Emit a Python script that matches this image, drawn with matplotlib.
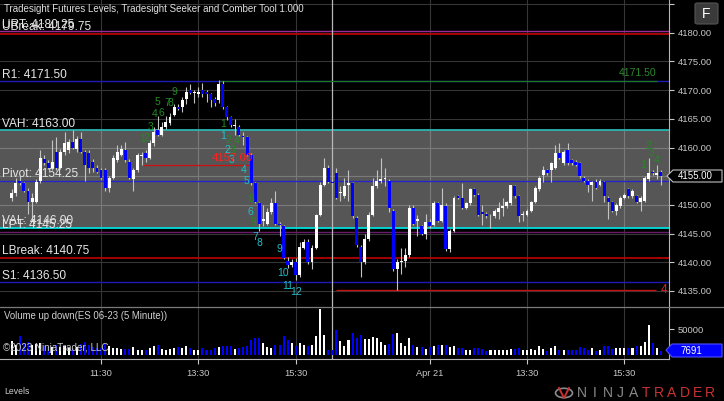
import matplotlib
matplotlib.use("Agg")
import matplotlib.pyplot as plt
import matplotlib.transforms as mtransforms
from matplotlib.lines import Line2D
from matplotlib.patches import Polygon, FancyBboxPatch, Circle
import numpy as np

plt.rcParams['font.family'] = ['Liberation Sans', 'DejaVu Sans']

W, H = 724, 401

# 5 minute ES 06-23 bars, two RTH sessions (first bar index 1)
opens = [
    4151.25, 4152.0, 4154.25, 4153.75, 4152.5, 4150.5, 4150.5, 4154.25, 4158.0, 4157.25,
    4156.5, 4159.25, 4156.5, 4159.25, 4159.5, 4161.0, 4159.75, 4161.5, 4159.25, 4159.0,
    4157.5, 4156.5, 4156.0, 4156.0, 4153.0, 4154.75, 4157.75, 4158.75, 4159.5, 4157.5,
    4154.5, 4156.0, 4158.5, 4159.0, 4158.25, 4160.75, 4163.0, 4162.25, 4163.5, 4164.25,
    4165.75, 4167.0, 4167.0, 4168.5, 4170.0, 4169.5, 4169.25, 4170.0, 4169.75, 4169.25,
    4168.5, 4168.25, 4171.0, 4167.0, 4165.25, 4163.75, 4163.5, 4162.0, 4161.75, 4158.75,
    4153.75, 4150.25, 4147.25, 4146.75, 4148.75, 4150.25, 4146.75, 4146.25, 4140.25, 4139.5,
    4140.0, 4137.75, 4142.5, 4143.5, 4140.0, 4142.5, 4148.25, 4153.5, 4156.5, 4154.0,
    4155.5, 4152.0, 4151.5, 4153.5, 4153.75, 4147.75, 4142.75, 4140.0, 4144.0, 4148.25,
    4153.25, 4154.25, 4154.5, 4154.25, 4149.0, 4138.75, 4140.0, 4140.25, 4141.25, 4149.5,
    4147.25, 4146.25, 4145.0, 4147.0, 4146.5, 4150.25, 4147.25, 4149.75, 4142.25, 4145.5,
    4151.5, 4151.25, 4149.5, 4150.25, 4152.75, 4151.75, 4148.75, 4148.5, 4148.0, 4148.0,
    4148.75, 4149.5, 4149.75, 4150.25, 4153.25, 4151.5, 4148.25, 4148.25, 4149.0, 4150.5,
    4152.75, 4155.25, 4156.0, 4156.0, 4156.5, 4159.0, 4157.25, 4159.5, 4157.75, 4157.5,
    4157.25, 4154.75, 4154.25, 4153.5, 4154.0, 4153.5, 4154.0, 4151.25, 4150.5, 4149.0,
    4149.75, 4151.25, 4152.75, 4151.5, 4151.5, 4150.5, 4150.75, 4154.5, 4155.75, 4155.25,
    4155.75]
highs = [
    4152.75, 4154.75, 4155.0, 4154.0, 4153.0, 4152.0, 4154.5, 4159.5, 4158.75, 4157.75,
    4161.25, 4161.75, 4159.75, 4162.75, 4161.5, 4163.0, 4162.0, 4162.75, 4159.5, 4159.5,
    4158.0, 4157.0, 4156.5, 4156.5, 4155.0, 4158.75, 4160.5, 4160.5, 4161.0, 4158.0,
    4156.5, 4159.0, 4159.25, 4159.5, 4161.25, 4163.5, 4165.5, 4164.5, 4165.5, 4166.0,
    4167.5, 4167.5, 4168.75, 4170.5, 4171.0, 4170.0, 4170.5, 4171.25, 4170.0, 4169.5,
    4168.75, 4171.75, 4171.5, 4167.25, 4165.5, 4165.0, 4164.0, 4162.75, 4162.0, 4159.0,
    4154.0, 4150.5, 4150.0, 4149.5, 4151.25, 4152.5, 4147.0, 4146.5, 4141.0, 4140.5,
    4140.75, 4143.5, 4144.0, 4144.0, 4143.0, 4148.5, 4154.0, 4158.25, 4157.0, 4154.5,
    4156.5, 4153.25, 4154.75, 4156.0, 4154.0, 4148.0, 4143.0, 4145.0, 4148.75, 4154.75,
    4156.0, 4158.25, 4156.5, 4154.5, 4149.25, 4140.5, 4142.5, 4142.5, 4150.0, 4150.0,
    4148.25, 4146.5, 4148.5, 4147.5, 4150.75, 4150.5, 4153.0, 4150.25, 4145.75, 4151.5,
    4151.75, 4153.75, 4150.5, 4153.0, 4153.0, 4152.0, 4150.0, 4148.75, 4148.5, 4149.25,
    4150.5, 4151.25, 4150.75, 4153.5, 4153.5, 4151.75, 4149.0, 4149.25, 4150.75, 4153.25,
    4155.0, 4156.75, 4156.25, 4157.5, 4160.5, 4160.75, 4159.5, 4160.75, 4158.0, 4157.75,
    4157.5, 4155.0, 4154.5, 4154.25, 4154.5, 4154.5, 4154.25, 4151.5, 4150.75, 4150.25,
    4151.5, 4152.0, 4153.0, 4152.75, 4151.75, 4151.5, 4155.0, 4158.25, 4156.0, 4157.0,
    4156.0]
lows = [
    4150.75, 4151.5, 4153.5, 4152.25, 4148.5, 4147.25, 4150.25, 4153.75, 4157.0, 4156.25,
    4156.0, 4156.0, 4156.25, 4158.75, 4159.0, 4159.75, 4159.25, 4159.0, 4154.25, 4155.5,
    4155.75, 4155.5, 4154.5, 4152.5, 4152.25, 4154.5, 4157.5, 4158.5, 4157.5, 4154.5,
    4152.5, 4155.75, 4157.0, 4157.5, 4158.0, 4160.25, 4162.0, 4162.0, 4163.25, 4164.0,
    4165.5, 4166.5, 4166.25, 4167.5, 4169.25, 4167.75, 4168.75, 4168.75, 4168.0, 4167.0,
    4167.25, 4167.75, 4166.75, 4164.75, 4163.5, 4162.25, 4162.0, 4160.5, 4158.5, 4153.5,
    4150.25, 4145.5, 4146.25, 4146.5, 4148.5, 4146.5, 4144.5, 4140.5, 4139.0, 4139.25,
    4137.0, 4137.5, 4142.25, 4139.75, 4138.75, 4142.25, 4148.0, 4153.25, 4153.75, 4153.5,
    4151.0, 4150.75, 4151.25, 4150.75, 4147.75, 4142.75, 4137.5, 4139.75, 4143.75, 4148.0,
    4153.0, 4153.75, 4153.25, 4148.75, 4138.5, 4135.25, 4138.0, 4139.25, 4141.0, 4146.5,
    4144.5, 4144.75, 4144.0, 4146.0, 4146.25, 4147.0, 4147.0, 4142.0, 4141.75, 4145.25,
    4151.0, 4149.25, 4149.25, 4150.0, 4151.5, 4148.0, 4146.5, 4147.75, 4146.0, 4147.75,
    4147.5, 4148.0, 4149.5, 4150.0, 4151.25, 4147.0, 4147.25, 4148.0, 4148.75, 4150.25,
    4152.5, 4154.0, 4155.25, 4154.0, 4156.25, 4158.0, 4157.0, 4157.0, 4157.0, 4156.75,
    4154.75, 4154.0, 4152.25, 4150.75, 4152.75, 4153.25, 4150.5, 4147.5, 4148.75, 4148.25,
    4149.5, 4151.0, 4151.25, 4151.25, 4150.25, 4149.0, 4150.5, 4154.25, 4155.25, 4154.5,
    4153.5]
closes = [
    4152.0, 4153.75, 4153.75, 4152.5, 4150.5, 4151.25, 4154.0, 4158.25, 4157.25, 4156.5,
    4157.5, 4156.5, 4159.25, 4160.75, 4161.0, 4160.0, 4161.5, 4159.25, 4157.0, 4156.5,
    4156.5, 4155.75, 4154.75, 4153.0, 4154.75, 4158.25, 4159.25, 4159.75, 4157.75, 4154.75,
    4156.0, 4158.75, 4158.75, 4158.25, 4160.75, 4162.75, 4162.25, 4163.5, 4164.5, 4165.25,
    4167.0, 4166.75, 4168.25, 4169.75, 4169.5, 4169.5, 4169.75, 4169.25, 4169.25, 4168.25,
    4167.75, 4171.0, 4167.0, 4165.25, 4164.0, 4164.0, 4162.25, 4161.75, 4158.75, 4153.75,
    4150.5, 4146.75, 4147.5, 4148.75, 4150.25, 4146.75, 4146.5, 4140.75, 4139.5, 4140.0,
    4137.75, 4142.75, 4143.5, 4140.0, 4142.5, 4148.25, 4153.5, 4156.5, 4154.0, 4153.75,
    4151.25, 4152.25, 4153.25, 4153.75, 4148.0, 4143.0, 4140.0, 4144.0, 4148.25, 4153.25,
    4154.25, 4154.5, 4154.5, 4149.5, 4138.75, 4140.0, 4140.25, 4141.25, 4149.5, 4146.75,
    4147.5, 4145.0, 4147.0, 4146.25, 4150.25, 4147.25, 4150.0, 4142.25, 4145.5, 4151.25,
    4151.25, 4149.5, 4150.25, 4152.75, 4151.75, 4148.25, 4148.5, 4148.0, 4148.0, 4149.0,
    4149.5, 4149.75, 4150.5, 4153.5, 4151.5, 4148.0, 4148.5, 4149.0, 4150.5, 4153.0,
    4154.75, 4156.0, 4155.5, 4157.25, 4159.0, 4158.25, 4159.25, 4157.25, 4157.25, 4157.0,
    4155.0, 4154.25, 4153.5, 4154.0, 4153.0, 4154.25, 4151.5, 4150.5, 4149.0, 4150.0,
    4151.25, 4151.75, 4151.5, 4152.5, 4150.5, 4151.25, 4154.75, 4155.5, 4155.5, 4155.5,
    4155.0]
volumes = [
    26000, 18000, 36000, 22000, 24000, 18000, 20000, 22000, 16000, 14000,
    15000, 18000, 14000, 16000, 12000, 13000, 14000, 20000, 25000, 18000,
    14000, 13000, 12000, 20000, 16000, 13700, 13700, 10500, 10500, 10500,
    15000, 9800, 8500, 9800, 13000, 17000, 18300, 10500, 9800, 10500,
    13000, 15000, 11800, 16400, 11800, 9800, 9800, 13000, 8500, 8500,
    11800, 15000, 17000, 17000, 17000, 10500, 13700, 15000, 17000, 28000,
    31400, 31400, 23500, 15000, 13700, 19600, 19600, 36000, 29400, 22900,
    16400, 21600, 19600, 16400, 18300, 36000, 89000, 38000, 8500, 8500,
    49000, 26000, 16400, 28000, 42500, 31400, 38000, 30000, 30000, 34700,
    31400, 24900, 18300, 20300, 41000, 42500, 21600, 16400, 31400, 19600,
    15000, 15000, 10500, 15000, 17000, 18300, 18300, 18300, 15000, 16400,
    13000, 13700, 9800, 9800, 13700, 11800, 10500, 6500, 8500, 9800,
    9800, 9800, 9800, 10500, 10500, 11800, 9800, 9800, 10500, 9800,
    17000, 10500, 7200, 13700, 17000, 9800, 9800, 8500, 9800, 8500,
    15000, 11800, 9800, 13000, 7200, 8500, 16400, 17000, 10500, 11800,
    11800, 11800, 13000, 11800, 16400, 17000, 24900, 57500, 23500, 11800,
    7691]

# time axis
tick_pos = [23, 47, 71, 104, 128, 152]
tick_labels = ['11:30', '13:30', '15:30', 'Apr 21', '13:30', '15:30']
session_break = 79.9

# Tradesight levels
level_names = ['UBreak', 'URT', 'R1', 'VAH', 'Pivot', 'VAL', 'LPT', 'LBreak', 'S1']
level_values = [4179.75, 4180.25, 4171.50, 4163.00, 4154.25, 4146.00, 4145.25, 4140.75, 4136.50]
level_colors = ['#c00000', '#9a2a9a', '#1c1cb4', '#2ab5b5', '#2424c8', '#00dede', '#6a1a6a', '#c00000', '#1c1cb4']

# Seeker / Comber counts (bar position, price)
green_up = ['1', '2', '3', '4', '5', '6', '7', '8', '9']
green_up_x = [33.1, 34.1, 35.1, 36.1, 37.0, 38.0, 39.3, 40.2, 41.0]
green_up_y = [4161.5, 4161.6, 4163.6, 4165.85, 4168.0, 4165.95, 4167.8, 4167.8, 4169.7]
green_dn = ['1', '2', '3', '4', '8', '9']
green_dn_x = [53.1, 54.3, 55.5, 56.5, 60.0, 60.5]
green_dn_y = [4164.05, 4161.3, 4159.55, 4161.1, 4151.0, 4147.0]
cyan_dn = ['1', '2', '3', '4', '5', '6', '7', '8', '9', '10', '11', '12']
cyan_dn_x = [53.1, 54.05, 55.2, 58.1, 58.9, 59.9, 61.0, 62.0, 67.1, 67.9, 69.1, 71.2]
cyan_dn_y = [4162.0, 4159.6, 4157.8, 4156.1, 4154.2, 4148.8, 4144.4, 4143.3, 4142.3, 4138.1, 4135.9, 4134.8]
green_end = ['1', '2', '3', '4']
green_end_x = [156.6, 157.8, 158.8, 160.0]
green_end_y = [4156.95, 4160.25, 4159.05, 4157.8]

comber_price, comber_from, comber_to = 4157.00, 33.3, 60.2
high_price, high_from, high_to = 4171.50, 52.3, 160.0
low_price, low_from, low_to = 4135.25, 81.0, 159.8
last_price = closes[-1]
last_volume = volumes[-1]

x = np.arange(1, len(opens) + 1)
o = np.array(opens); h = np.array(highs); l = np.array(lows); c = np.array(closes)
up = c >= o
bar_colors = np.where(up, '#ffffff', '#0000ff')

fig = plt.figure(figsize=(W / 100, H / 100), dpi=100, facecolor='black')


def fx(px):
    return px / W


def fy(py):
    return 1 - py / H


ax = fig.add_axes([0, fy(307), fx(669), 307 / H])
axv = fig.add_axes([0, fy(359), fx(669), 52 / H])
for a in (ax, axv):
    a.set_facecolor('black')
    a.set_xlim(-1.9, 163.0)
    a.set_axisbelow(True)
    for s in ('top', 'left'):
        a.spines[s].set_visible(False)
    a.spines['right'].set_color('#b4b4b4')
    a.spines['bottom'].set_color('#b4b4b4')
ax.spines['bottom'].set_visible(False)

ax.set_ylim(4132.21, 4185.70)
axv.set_ylim(-8800, 93150)

# price axis (last price box covers the 4155 label)
yt = np.arange(4135, 4186, 5)
ax.yaxis.tick_right()
ax.set_yticks(yt, ['' if v in (4185, round(last_price)) else f'{v:.2f}' for v in yt])
ax.tick_params(axis='y', colors='#c8c8c8', labelsize=6.8, length=3.5, width=0.8, pad=2.5)
ax.set_xticks(tick_pos)
ax.tick_params(axis='x', length=0, labelbottom=False)
ax.grid(True, color='#363636', lw=0.8)

axv.yaxis.tick_right()
axv.set_yticks([50000], ['50000'])
axv.tick_params(axis='y', colors='#c8c8c8', labelsize=6.8, length=3.5, width=0.8, pad=2.5)
axv.set_xticks(tick_pos, tick_labels)
axv.tick_params(axis='x', colors='#c8c8c8', labelsize=6.7, length=3.5, width=0.8, pad=4)
axv.grid(True, axis='x', color='#363636', lw=0.8)

# value area shading
ax.axhspan(level_values[5], level_values[3], color='white', alpha=0.34, lw=0, zorder=1)

# level lines and labels
lw_map = {'#c00000': 1.2, '#00dede': 1.3, '#2ab5b5': 1.3}
lab_tr = mtransforms.blended_transform_factory(ax.transAxes, ax.transData)
lab_tr = lab_tr + mtransforms.ScaledTranslation(0, 0.5 / 72, fig.dpi_scale_trans)
for name, val, col in zip(level_names, level_values, level_colors):
    ax.axhline(val, color=col, lw=lw_map.get(col, 1.0), zorder=2)
    ax.text(0.003, val, f'{name}: {val:.2f}', transform=lab_tr, ha='left', va='bottom',
            color='#e6e6e6', fontsize=8.6, zorder=6)

ax.hlines(comber_price, comber_from, comber_to, color='#d01010', lw=0.9, zorder=2.6)
ax.hlines(high_price, high_from, high_to, color='#1e7a1e', lw=0.9, zorder=2.6)
ax.hlines(low_price, low_from, low_to, color='#c01010', lw=1.0, zorder=2.6)
ax.text(high_to, high_price + 0.6, f'{high_price:.2f}', ha='right', va='bottom',
        color='#2a8a2a', fontsize=7.5, zorder=6)
ax.text(161.8, low_price, '4', ha='center', va='center', color='#e02020', fontsize=8.5, zorder=6)

# session break
ax.axvline(session_break, color='#b8b8b8', lw=0.9, zorder=2.5)
axv.axvline(session_break, color='#b8b8b8', lw=0.9, zorder=2.5)

# candles
ax.vlines(x, l, h, colors='#c4c4c4', lw=0.8, zorder=3)
ax.bar(x, np.maximum(np.abs(c - o), 0.13), bottom=np.minimum(o, c), width=0.72,
       color=bar_colors, lw=0, zorder=4)

# volume
axv.bar(x, volumes, width=0.5, color=bar_colors, lw=0, zorder=3)

# counts
for labs, xs, ys, col in [(green_up, green_up_x, green_up_y, '#238b23'),
                          (green_dn, green_dn_x, green_dn_y, '#238b23'),
                          (cyan_dn, cyan_dn_x, cyan_dn_y, '#20c0c8'),
                          (green_end, green_end_x, green_end_y, '#238b23')]:
    for t, xx, yy in zip(labs, xs, ys):
        ax.text(xx, yy, t, ha='center', va='center', color=col, fontsize=7.5, zorder=5)
ax.text(comber_to + 0.2, comber_price + 0.3, f'{comber_price:.2f}', ha='right', va='bottom',
        color='#ff2020', fontsize=8.2, zorder=6)

# panel separator
fig.add_artist(Line2D([0, 1], [fy(306.5)] * 2, transform=fig.transFigure, color='#7a7a7a', lw=0.9))

# last price / last volume markers
tr = fig.transFigure
pts = [(667, 176), (673, 170), (722, 170), (722, 182), (673, 182)]
fig.add_artist(Polygon([(fx(a), fy(b)) for a, b in pts], closed=True, transform=tr,
                       facecolor='black', edgecolor='#c0c0c0', lw=0.8, zorder=10))
fig.text(fx(678), fy(176), f'{last_price:.2f}', color='white', fontsize=7, va='center', zorder=11)
pts = [(666, 350), (672, 344), (722, 344), (722, 357), (672, 357)]
fig.add_artist(Polygon([(fx(a), fy(b)) for a, b in pts], closed=True, transform=tr,
                       facecolor='#0000ff', edgecolor='#5050ff', lw=0.8, zorder=10))
fig.text(fx(680), fy(350.5), f'{last_volume}', color='white', fontsize=7, va='center', zorder=11)

# texts
fig.text(fx(4), fy(9), 'Tradesight Futures Levels, Tradesight Seeker and Comber Tool 1.000',
         color='#e0e0e0', fontsize=7, va='center')
fig.text(fx(4), fy(316), 'Volume up down(ES 06-23 (5 Minute))', color='#d0d0d0', fontsize=6.9, va='center')
fig.text(fx(3), fy(348), '\u00a92023 NinjaTrader, LLC', color='#c8c8c8', fontsize=7.1, va='center', zorder=12)
fig.text(fx(4), fy(392), 'Levels', color='#d0d0d0', fontsize=6.2, va='center')

# F button
fig.add_artist(FancyBboxPatch((fx(695), fy(24)), fx(23), 21 / H, boxstyle='round,pad=0,rounding_size=0.004',
                              transform=tr, facecolor='#3a3a3a', edgecolor='#555555', lw=0.8))
fig.text(fx(706.5), fy(14), 'F', color='white', fontsize=10, ha='center', va='center')

# NinjaTrader logo
fig.add_artist(Circle((fx(564), fy(393)), 8.5 / W, transform=tr, facecolor='none', edgecolor='#8a8a8a', lw=1.2))
fig.add_artist(Line2D([fx(559), fx(564), fx(569)], [fy(388), fy(398), fy(388)], transform=tr,
                      color='#c83232', lw=1.4))
for k, ch in enumerate('NINJATRADER'):
    fig.text(fx(582 + k * 12.8), fy(393), ch, color='#8a8a8a' if k < 5 else '#c83232',
             fontsize=10, ha='center', va='center')

fig.savefig('out.png', dpi=100, facecolor='black')
